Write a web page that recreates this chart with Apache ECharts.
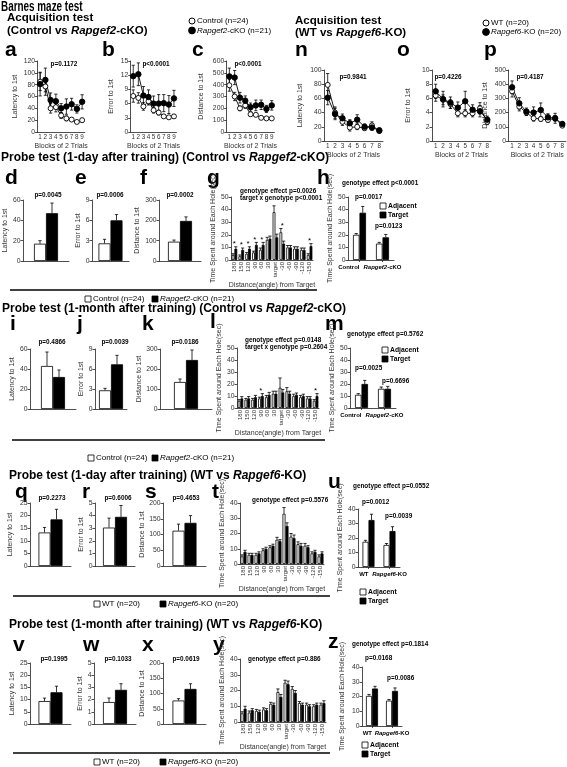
<!DOCTYPE html>
<html><head><meta charset="utf-8">
<script src="https://cdn.jsdelivr.net/npm/echarts@6/dist/echarts.min.js"></script>
<style>html,body{margin:0;padding:0;background:#fff}#c{width:567px;height:767px}</style>
</head><body><div id="c"></div>
<script>
// ---------------- DATA ----------------
const blocks9 = ['1','2','3','4','5','6','7','8','9'];
const blocks8 = ['1','2','3','4','5','6','7','8'];
const angles = ['180','150','120','90','60','30','target','-30','-60','-90','-120','-150'];
const groupsCKO = ['Control','Rapgef2-cKO'];
const groupsKO = ['WT','Rapgef6-KO'];

// Acquisition, Control vs Rapgef2-cKO
const aCtrl = [85, 77, 40, 42, 28, 23, 21, 17, 20];
const aCtrlErr = [15, 15, 8, 8, 5, 4, 3, 2, 3];
const aKO = [81, 88, 54, 52, 40, 43, 47, 39, 51];
const aKOErr = [20, 20, 12, 12, 8, 13, 10, 7, 12];
const bCtrl = [7.6, 7.2, 5.4, 6.5, 4.6, 4.1, 3.3, 3.1, 3.3];
const bCtrlErr = [1.3, 1.1, 0.8, 0.8, 0.6, 0.5, 0.3, 0.3, 0.3];
const bKO = [11.8, 12.2, 7.7, 7.4, 6.0, 6.0, 6.1, 5.8, 7.1];
const bKOErr = [2.3, 2.4, 1.9, 1.5, 1.6, 1.9, 1.8, 1.9, 1.7];
const cCtrl = [395, 300, 200, 225, 150, 145, 120, 115, 115];
const cCtrlErr = [50, 35, 20, 25, 15, 12, 10, 8, 8];
const cKO = [470, 460, 290, 265, 210, 225, 230, 195, 225];
const cKOErr = [70, 60, 45, 40, 35, 45, 40, 30, 40];
// Acquisition, WT vs Rapgef6-KO
const nWT = [79, 40, 27, 19, 20, 18, 22, 14];
const nWTErr = [16, 8, 5, 5, 4, 3, 5, 3];
const nKO = [61, 38, 32, 25, 30, 20, 19, 15];
const nKOErr = [10, 8, 6, 5, 7, 4, 4, 3];
const oWT = [6.4, 5.8, 5.2, 3.9, 3.9, 3.9, 4.6, 2.7];
const oWTErr = [0.8, 0.7, 0.6, 0.5, 0.5, 0.5, 0.8, 0.4];
const oKO = [7.0, 5.9, 5.4, 4.7, 5.6, 4.4, 4.2, 3.0];
const oKOErr = [1.0, 1.1, 0.8, 0.8, 1.4, 0.7, 0.8, 0.5];
const pWT = [350, 242, 200, 160, 155, 148, 160, 108];
const pWTErr = [40, 30, 20, 20, 15, 15, 20, 12];
const pKO = [378, 265, 207, 200, 218, 167, 160, 120];
const pKOErr = [45, 40, 25, 40, 50, 25, 35, 15];

// Probe tests: [open group, filled group]
const dVals = [17, 47],   dErrs = [3, 10];
const eVals = [2.6, 6.0], eErrs = [0.6, 0.85];
const fVals = [95, 197],  fErrs = [8, 20];
const gCtrl = [4, 3, 5, 6, 8, 16, 38, 22, 10, 9, 8, 4];
const gCtrlErr = [1, 1, 1, 1, 1.5, 2, 5, 3, 1.5, 1.5, 1.5, 1];
const gKO = [9, 8, 9, 12, 12, 17, 18, 13, 10, 9, 8, 11];
const gKOErr = [1.5, 1.5, 1.5, 2, 2, 2, 2.5, 2, 1.5, 1.5, 1.5, 2];
const gStars = [0, 1, 2, 3, 4, 7, 11];
const hAdj = [20, 13],   hAdjErr = [1, 1];
const hTgt = [37.5, 18], hTgtErr = [5, 2.3];

const iVals = [43, 32],   iErrs = [14, 7];
const jVals = [2.8, 6.7], jErrs = [0.3, 1.35];
const kVals = [135, 245], kErrs = [15, 50];
const lCtrl = [6, 7, 7, 8, 9, 12, 17, 14, 10, 9, 8, 6];
const lCtrlErr = [1, 1, 1, 1, 1.5, 2, 8, 3, 1.5, 1.5, 1.5, 1];
const lKO = [8, 8, 9, 10, 11, 12, 13, 12, 11, 10, 8, 10];
const lKOErr = [1.5, 1.5, 1.5, 2, 2, 2, 2.5, 2, 1.5, 1.5, 1.5, 2];
const lStars = [3, 11];
const mAdj = [11, 16], mAdjErr = [1, 1.5];
const mTgt = [20, 16], mTgtErr = [3, 2];

const qVals = [13.3, 18.5], qErrs = [2, 4];
const rVals = [3.05, 3.9],  rErrs = [0.75, 0.9];
const sVals = [112, 137],   sErrs = [21, 23];
const tWT = [5, 6, 6, 9, 11, 16, 33, 18, 13, 12, 7, 5];
const tWTErr = [1, 1, 1, 1, 1, 1.5, 4, 2, 1.5, 1.5, 1, 1];
const tKO = [8, 6, 7, 10, 12, 15, 25, 17, 12, 11, 8, 7];
const tKOErr = [1, 1, 1, 1, 1, 1, 2, 2, 1.5, 1, 1, 1];
const uAdj = [17.4, 15.2], uAdjErr = [1, 1];
const uTgt = [32.4, 24.8], uTgtErr = [4, 3];

const vVals = [9.4, 13],  vErrs = [1.2, 2.5];
const wVals = [1.8, 2.8], wErrs = [0.33, 0.5];
const xVals = [77, 115],  xErrs = [6, 17];
const yWT = [5.5, 6, 7, 8, 11.5, 19, 25, 21, 12, 11, 10, 11];
const yWTErr = [1, 1, 1, 1, 1, 2, 1.5, 1.5, 1, 1, 1, 1];
const yKO = [8.5, 7.5, 6.5, 7.5, 11, 16, 24, 18.5, 11, 10, 11, 12];
const yKOErr = [1.5, 1, 1, 1, 1, 1.5, 2, 1.5, 1, 1, 1, 1.5];
const zAdj = [20.4, 17.2], zAdjErr = [1, 0.8];
const zTgt = [25.4, 23.8], zTgtErr = [1.5, 2];

// ---------------- BUILD ----------------
const F = "'Liberation Sans', Arial, Helvetica, sans-serif";
const AX = '#222', TX = '#333';
const grids = [], xAxes = [], yAxes = [], series = [], gfx = [];

function grid(l, t, w, h) { grids.push({left: l, top: t, width: w, height: h}); return grids.length - 1; }

function yAxis(gi, max, step, name, gap) {
  return {type: 'value', gridIndex: gi, min: 0, max: max, interval: step,
    name: name, nameLocation: 'middle', nameGap: gap, nameRotate: 90,
    nameTextStyle: {fontFamily: F, fontSize: 7, color: TX},
    axisLine: {show: true, lineStyle: {color: AX, width: 0.8}},
    axisTick: {show: true, length: 2.5, lineStyle: {color: AX, width: 0.8}},
    axisLabel: {fontFamily: F, fontSize: 6.8, color: TX, margin: 2.5},
    splitLine: {show: false}};
}

function errBars(gi, vals, errs, dx, both) {
  return {type: 'custom', xAxisIndex: gi, yAxisIndex: gi, z: 2, silent: true, animation: false,
    data: vals.map((v, i) => [i, v, errs[i]]),
    renderItem: function (p, api) {
      const i = api.value(0), v = api.value(1), e = api.value(2);
      const hi = api.coord([i, v + e]), lo = api.coord([i, both ? v - e : v]);
      const x = hi[0] + dx, c = 1.6;
      const st = {stroke: '#000', lineWidth: 0.8};
      const ch = [{type: 'line', shape: {x1: x, y1: hi[1], x2: x, y2: lo[1]}, style: st},
                  {type: 'line', shape: {x1: x - c, y1: hi[1], x2: x + c, y2: hi[1]}, style: st}];
      if (both) ch.push({type: 'line', shape: {x1: x - c, y1: lo[1], x2: x + c, y2: lo[1]}, style: st});
      return {type: 'group', children: ch};
    }};
}

function lineS(gi, data, fill) {
  return {type: 'line', xAxisIndex: gi, yAxisIndex: gi, data: data, symbol: 'circle',
    symbolSize: fill === '#000' ? 5.5 : 5, z: 3, animation: false, silent: true,
    lineStyle: {color: '#000', width: 0.9},
    itemStyle: {color: fill, borderColor: '#000', borderWidth: 0.9}};
}

function acqPanel(l, t, w, h, cats, c, ce, k, ke, max, step, yname, ygap) {
  const gi = grid(l, t, w, h);
  xAxes.push({type: 'category', gridIndex: gi, data: cats, boundaryGap: true,
    name: 'Blocks of 2 Trials', nameLocation: 'middle', nameGap: 10.5,
    nameTextStyle: {fontFamily: F, fontSize: 7, color: TX},
    axisLine: {lineStyle: {color: AX, width: 0.8}},
    axisTick: {alignWithLabel: true, length: 2, lineStyle: {color: AX, width: 0.8}},
    axisLabel: {interval: 0, fontFamily: F, fontSize: 6.3, color: TX, margin: 2.5}});
  yAxes.push(yAxis(gi, max, step, yname, ygap));
  series.push(errBars(gi, c, ce, 0, true), errBars(gi, k, ke, 0, true));
  series.push(lineS(gi, c, '#fff'), lineS(gi, k, '#000'));
}

function barS(gi, data, bw, fill) {
  return {type: 'bar', xAxisIndex: gi, yAxisIndex: gi, data: data, barWidth: bw, barGap: '0%',
    z: 1, animation: false, silent: true,
    itemStyle: {color: fill, borderColor: '#000', borderWidth: 0.8}};
}

function starS(gi, idx, c, ce, k, ke) {
  return {type: 'custom', xAxisIndex: gi, yAxisIndex: gi, z: 4, silent: true, animation: false,
    data: idx.map(i => [i, Math.max(c[i] + ce[i], k[i] + ke[i])]),
    renderItem: function (p, api) {
      const pt = api.coord([api.value(0), api.value(1)]);
      return {type: 'text', x: pt[0], y: pt[1] + 1,
        style: {text: '*', fontSize: 8, fontFamily: F, fill: '#000',
          align: 'center', verticalAlign: 'bottom', textAlign: 'center', textVerticalAlign: 'bottom'}};
    }};
}

const richLab = {
  b: {fontFamily: F, fontSize: 6, fontWeight: 'bold', color: '#000'},
  i: {fontFamily: F, fontSize: 6, fontWeight: 'bold', fontStyle: 'italic', color: '#000'}};
function groupFmt(v) {
  const p = v.indexOf('-');
  return p > 0 ? '{i|' + v.slice(0, p) + '}{b|' + v.slice(p) + '}' : '{b|' + v + '}';
}

function barPanel(o) {
  const gi = grid(o.l, o.t, o.w, o.h);
  let lab = {show: false};
  if (o.rot) lab = {interval: 0, rotate: 90, fontFamily: F, fontSize: 6, color: TX, margin: 2};
  if (o.groups) lab = {interval: 0, formatter: groupFmt, rich: richLab, margin: 4,
    alignMinLabel: 'right', alignMaxLabel: 'center'};
  xAxes.push({type: 'category', gridIndex: gi, data: o.cats, boundaryGap: true,
    name: o.xname || '', nameLocation: 'middle', nameGap: o.xgap || 10,
    nameTextStyle: {fontFamily: F, fontSize: 7, color: TX},
    axisLine: {lineStyle: {color: AX, width: 0.8}},
    axisTick: {show: !!o.groups, alignWithLabel: true, length: 2, lineStyle: {color: AX, width: 0.8}},
    axisLabel: lab});
  yAxes.push(yAxis(gi, o.max, o.step, o.yname, o.ygap));
  series.push(barS(gi, o.c, o.bw, '#fff'), barS(gi, o.k, o.bw, '#000'));
  series.push(errBars(gi, o.c, o.ce, -o.bw / 2, false), errBars(gi, o.k, o.ke, o.bw / 2, false));
  if (o.stars) series.push(starS(gi, o.stars, o.c, o.ce, o.k, o.ke));
}
function twoBar(l, t, w, h, vals, errs, max, step, yname, ygap, bw) {
  barPanel({l: l, t: t, w: w, h: h, cats: ['g'], c: [vals[0]], ce: [errs[0]], k: [vals[1]], ke: [errs[1]],
    max: max, step: step, yname: yname, ygap: ygap, bw: bw || 12});
}
const TS = 'Time Spent around Each Hole(sec)', DT = 'Distance(angle) from Target';

// ---- acquisition ----
acqPanel(37.5, 61, 47.25, 71, blocks9, aCtrl, aCtrlErr, aKO, aKOErr, 120, 20, 'Latency to 1st', 18.5);
acqPanel(130.7, 61, 45.8, 71, blocks9, bCtrl, bCtrlErr, bKO, bKOErr, 15, 3, 'Error to 1st', 16.5);
acqPanel(226.7, 61, 47.7, 71, blocks9, cCtrl, cCtrlErr, cKO, cKOErr, 600, 100, 'Distance to 1st', 22);
acqPanel(324, 70, 59, 71, blocks8, nWT, nWTErr, nKO, nKOErr, 100, 20, 'Latency to 1st', 20);
acqPanel(432, 70, 59, 71, blocks8, oWT, oWTErr, oKO, oKOErr, 10, 2, 'Error to 1st', 20);
acqPanel(508.5, 70, 58, 71, blocks8, pWT, pWTErr, pKO, pKOErr, 500, 100, 'Distance to 1st', 19.5);

// ---- probe 1-day cKO ----
twoBar(23, 200, 46, 61, dVals, dErrs, 60, 20, 'Latency to 1st', 9);
twoBar(92, 200, 37, 61, eVals, eErrs, 9, 3, 'Error to 1st', 8);
twoBar(159, 200, 42, 61, fVals, fErrs, 300, 100, 'Distance to 1st', 18);
barPanel({l: 231, t: 197, w: 82, h: 63, cats: angles, c: gCtrl, ce: gCtrlErr, k: gKO, ke: gKOErr,
  max: 50, step: 10, yname: TS, ygap: 9, bw: 2.8, rot: true, xname: DT, xgap: 21, stars: gStars});
barPanel({l: 348, t: 197, w: 46, h: 63, cats: groupsCKO, c: hAdj, ce: hAdjErr, k: hTgt, ke: hTgtErr,
  max: 50, step: 10, yname: TS, ygap: 11, bw: 6.5, groups: true});

// ---- probe 1-month cKO ----
twoBar(30, 349, 46, 60, iVals, iErrs, 60, 20, 'Latency to 1st', 14);
twoBar(95, 349, 32, 60, jVals, jErrs, 9, 3, 'Error to 1st', 7);
twoBar(160, 349, 52, 60, kVals, kErrs, 300, 100, 'Distance to 1st', 12);
barPanel({l: 237, t: 348, w: 82, h: 60, cats: angles, c: lCtrl, ce: lCtrlErr, k: lKO, ke: lKOErr,
  max: 50, step: 10, yname: TS, ygap: 11, bw: 2.8, rot: true, xname: DT, xgap: 21, stars: lStars});
barPanel({l: 350, t: 348, w: 46, h: 60, cats: groupsCKO, c: mAdj, ce: mAdjErr, k: mTgt, ke: mTgtErr,
  max: 50, step: 10, yname: TS, ygap: 11, bw: 6.5, groups: true});

// ---- probe 1-day KO ----
twoBar(30, 503, 41, 63, qVals, qErrs, 25, 5, 'Latency to 1st', 16);
twoBar(95, 503, 40, 63, rVals, rErrs, 5, 1, 'Error to 1st', 9);
twoBar(163, 503, 43, 63, sVals, sErrs, 200, 50, 'Distance to 1st', 12);
barPanel({l: 240, t: 503, w: 84, h: 61, cats: angles, c: tWT, ce: tWTErr, k: tKO, ke: tKOErr,
  max: 40, step: 10, yname: TS, ygap: 6, bw: 3, rot: true, xname: DT, xgap: 21});
barPanel({l: 358, t: 509, w: 42, h: 58, cats: groupsKO, c: uAdj, ce: uAdjErr, k: uTgt, ke: uTgtErr,
  max: 40, step: 10, yname: TS, ygap: 14, bw: 6, groups: true});

// ---- probe 1-month KO ----
twoBar(30, 663, 41, 61, vVals, vErrs, 25, 5, 'Latency to 1st', 14.5);
twoBar(94, 663, 42, 61, wVals, wErrs, 5, 1, 'Error to 1st', 10);
twoBar(163, 663, 43, 61, xVals, xErrs, 200, 50, 'Distance to 1st', 17.5);
barPanel({l: 240, t: 659, w: 86, h: 63, cats: angles, c: yWT, ce: yWTErr, k: yKO, ke: yKOErr,
  max: 40, step: 10, yname: TS, ygap: 7, bw: 3, rot: true, xname: DT, xgap: 21});
barPanel({l: 362, t: 667, w: 40, h: 59, cats: groupsKO, c: zAdj, ce: zAdjErr, k: zTgt, ke: zTgtErr,
  max: 40, step: 10, yname: TS, ygap: 16.5, bw: 6, groups: true});

// ---------------- TEXT / DECOR ----------------
function T(x, y, s, size, weight, align, sx) {
  const base = {fontFamily: F, fontSize: size, fontWeight: weight || 'normal', fill: '#000'};
  const el = {type: 'text', x: x, y: y, silent: true,
    style: Object.assign({text: s, align: align || 'left', verticalAlign: 'middle',
      textAlign: align || 'left', textVerticalAlign: 'middle',
      rich: {i: Object.assign({}, base, {fontStyle: 'italic'})}}, base)};
  if (sx) el.scaleX = sx;
  return el;
}
function P(x, y, s, align) { return T(x, y, s, 6.4, 'bold', align || 'center'); }
function L(x, y, s) { return T(x, y, s, 21, 'bold'); }
function hline(x1, x2, y) { return {type: 'line', silent: true, shape: {x1: x1, y1: y, x2: x2, y2: y}, style: {stroke: '#000', lineWidth: 1.3}}; }
function sq(x, y, fill) { return {type: 'rect', silent: true, shape: {x: x, y: y - 3, width: 6, height: 6}, style: {fill: fill, stroke: '#000', lineWidth: 0.8}}; }
function circ(x, y, r, fill) { return {type: 'circle', silent: true, shape: {cx: x, cy: y, r: r}, style: {fill: fill, stroke: '#000', lineWidth: 1}}; }
function groupLegend(x1, t1, x2, t2, y, s1, s2) {
  gfx.push(sq(x1, y, '#fff'), T(t1, y, s1, 8), sq(x2, y, '#000'), T(t2, y, s2, 8));
}
function adjLegend(x, y) {
  gfx.push(sq(x, y, '#fff'), T(x + 8, y, 'Adjacent', 6.8, 'bold'), sq(x, y + 9, '#000'), T(x + 8, y + 9, 'Target', 6.8, 'bold'));
}

gfx.push(
  T(1, 7, 'Barnes maze test', 15, 'bold', 'left', 0.66),
  T(7, 18, 'Acquisition test', 11.5, 'bold'),
  T(7, 30.5, '(Control vs {i|Rapgef2}-cKO)', 11.5, 'bold'),
  T(295, 21, 'Acquisition test', 11.5, 'bold'),
  T(295, 33, '(WT vs {i|Rapgef6}-KO)', 11.5, 'bold'),
  circ(192, 21, 3, '#fff'), T(197, 21, 'Control (n=24)', 8),
  circ(192, 30.5, 3.4, '#000'), T(197, 30.5, '{i|Rapgef2}-cKO (n=21)', 8),
  circ(486, 23, 3, '#fff'), T(491, 23, 'WT (n=20)', 8),
  circ(486, 32, 3.4, '#000'), T(491, 32, '{i|Rapgef6}-KO (n=20)', 8),
  L(5, 50, 'a'), L(102, 50, 'b'), L(192, 50, 'c'), L(295, 50, 'n'), L(397, 50, 'o'), L(484, 50, 'p'),
  P(64, 64, 'p=0.1172'), P(156, 64, 'p<0.0001'), P(248, 64, 'p<0.0001'),
  P(353, 77, 'p=0.9841'), P(448, 77, 'p=0.4226'), P(530, 77, 'p=0.4187'),

  T(1, 158, 'Probe test (1-day after training) (Control vs {i|Rapgef2}-cKO)', 12, 'bold'),
  L(5, 178, 'd'), L(75, 178, 'e'), L(140, 178, 'f'), L(207, 178, 'g'), L(317, 178, 'h'),
  P(48, 195, 'p=0.0045'), P(110, 195, 'p=0.0006'), P(180, 195, 'p=0.0002'),
  P(240, 191, 'genotype effect p=0.0026', 'left'), P(240, 198, 'target x genotype p<0.0001', 'left'),
  P(342, 183, 'genotype effect p<0.0001', 'left'), P(355, 197, 'p=0.0017', 'left'), P(375, 226, 'p=0.0123', 'left'),
  hline(10, 317, 290),

  T(2, 309, 'Probe test (1-month after training) (Control vs {i|Rapgef2}-cKO)', 12, 'bold'),
  L(10, 324.5, 'i'), L(77, 324.5, 'j'), L(142, 324.5, 'k'), L(210, 322.5, 'l'), L(325, 324.5, 'm'),
  P(52, 342, 'p=0.4866'), P(115, 342, 'p=0.0039'), P(185, 342, 'p=0.0186'),
  P(245, 340, 'genotype effect p=0.0148', 'left'), P(245, 347, 'target x genotype p=0.2604', 'left'),
  P(347, 334, 'genotype effect p=0.5762', 'left'), P(355, 368, 'p=0.0025', 'left'), P(382, 381, 'p=0.6696', 'left'),
  hline(12, 325, 440),

  T(9, 476, 'Probe test (1-day after training) (WT vs {i|Rapgef6}-KO)', 12, 'bold'),
  L(15, 492.5, 'q'), L(82, 492.5, 'r'), L(145, 492.5, 's'), L(212, 492.5, 't'), L(328, 482.5, 'u'),
  P(52, 498, 'p=0.2273'), P(118, 498, 'p=0.6006'), P(186, 498, 'p=0.4653'),
  P(252, 500, 'genotype effect p=0.5576', 'left'),
  P(353, 486, 'genotype effect p=0.0552', 'left'), P(362, 502, 'p=0.0012', 'left'), P(385, 516, 'p=0.0039', 'left'),
  hline(13, 330, 596),

  T(9, 625, 'Probe test (1-month after training) (WT vs {i|Rapgef6}-KO)', 12, 'bold'),
  L(13, 645.5, 'v'), L(83, 645.5, 'w'), L(142, 645.5, 'x'), L(213, 645.5, 'y'), L(328, 642.5, 'z'),
  P(54, 659, 'p=0.1995'), P(118, 659, 'p=0.1033'), P(186, 659, 'p=0.0619'),
  P(248, 659, 'genotype effect p=0.886', 'left'),
  P(352, 644, 'genotype effect p=0.1814', 'left'), P(365, 658, 'p=0.0168', 'left'), P(387, 678, 'p=0.0086', 'left'),
  hline(13, 330, 753)
);
groupLegend(85, 93, 152, 160, 299, 'Control (n=24)', '{i|Rapgef2}-cKO (n=21)');
groupLegend(88, 96, 152, 160, 458, 'Control (n=24)', '{i|Rapgef2}-cKO (n=21)');
groupLegend(94, 102, 160, 168, 604, 'WT (n=20)', '{i|Rapgef6}-KO (n=20)');
groupLegend(94, 102, 160, 168, 762, 'WT (n=20)', '{i|Rapgef6}-KO (n=20)');
adjLegend(380, 206);
adjLegend(382, 350);
adjLegend(360, 592);
adjLegend(362, 745);

const chart = echarts.init(document.getElementById('c'), null, {renderer: 'canvas'});
chart.setOption({
  animation: false,
  backgroundColor: '#fff',
  textStyle: {fontFamily: F},
  grid: grids, xAxis: xAxes, yAxis: yAxes, series: series,
  graphic: {elements: gfx}
});
</script></body></html>
